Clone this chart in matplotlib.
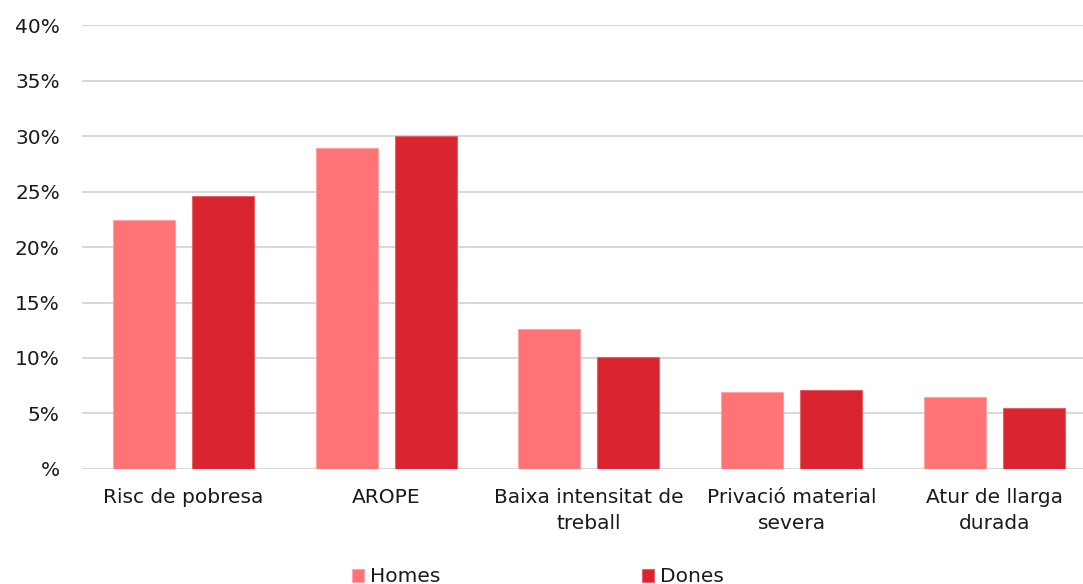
import matplotlib
matplotlib.use("Agg")
import matplotlib.pyplot as plt
import numpy as np
from matplotlib.ticker import FuncFormatter

categories = ["Risc de pobresa", "AROPE", "Baixa intensitat de\ntreball",
              "Privació material\nsevera", "Atur de llarga\ndurada"]
homes = [22.4, 28.9, 12.6, 6.9, 6.5]
dones = [24.6, 30.0, 10.1, 7.1, 5.5]
series_names = ["Homes", "Dones"]
yticks = [0, 5, 10, 15, 20, 25, 30, 35, 40]

c_homes = "#FF7276"
c_dones = "#D9232F"

plt.rcParams['font.family'] = ['Verdana', 'DejaVu Sans']
FS = 14.5

fig = plt.figure(figsize=(10.83, 5.84), dpi=100)
ax = fig.add_axes([0.0757, 0.197, 0.936, 0.760])

x = np.arange(len(categories))
w = 0.306
ax.bar(x - 0.195, homes, width=w, color=c_homes, edgecolor="#FFA5A8", linewidth=0.8,
       label=series_names[0], zorder=3)
ax.bar(x + 0.195, dones, width=w, color=c_dones, edgecolor="#E86068", linewidth=0.8,
       label=series_names[1], zorder=3)

ax.set_xlim(-0.5, len(categories) - 0.5)
ax.set_ylim(0, 40)
ax.set_yticks(yticks)
ax.yaxis.set_major_formatter(FuncFormatter(lambda v, p: f"{int(v)}%" if v else "%"))
ax.set_xticks(x)
ax.set_xticklabels(categories, fontsize=FS, color="#1a1a1a", linespacing=1.45)
ax.tick_params(axis='y', length=0, pad=16, labelsize=FS, labelcolor="#1a1a1a")
ax.tick_params(axis='x', length=0, pad=14)
ax.grid(axis='y', color="#D9D9D9", linewidth=1.5, zorder=0)
ax.set_axisbelow(True)
for s in ax.spines.values():
    s.set_visible(False)

fig.legend(loc="lower center", bbox_to_anchor=(0.497, -0.035), ncol=2, frameon=False,
           fontsize=FS, handlelength=0.6, handleheight=0.6, handletextpad=0.3,
           columnspacing=10.0, labelcolor="#1a1a1a")

fig.savefig("out.png", dpi=100)
